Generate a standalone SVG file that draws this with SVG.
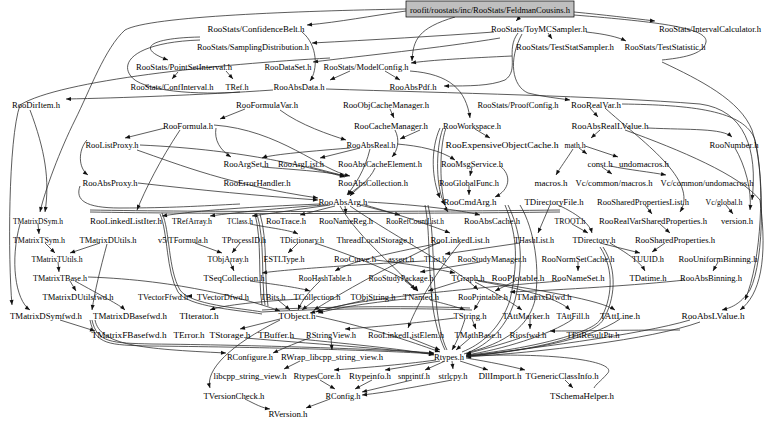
<svg xmlns="http://www.w3.org/2000/svg" width="768" height="424" viewBox="0 0 768 424">
<defs>
<marker id="a" viewBox="0 0 10 10" refX="10" refY="5" markerUnits="userSpaceOnUse" markerWidth="6" markerHeight="5" orient="auto"><path d="M0,1 L10,5 L0,9 z" fill="#111"/></marker>
<style>
text{font-family:"Liberation Serif","Times New Roman",serif;font-size:9px;fill:#000;text-anchor:middle}
.e path{fill:none;stroke:#262626;stroke-width:0.75;marker-end:url(#a)}
.e path.n{marker-end:none}
</style>
</defs>
<rect width="768" height="424" fill="#fff"/>
<g class="e" id="edges">
<path d="M406,11 C370,16 340,22 307,25"/>
<path d="M520,17 L516,21"/>
<path d="M574,12 C605,15 630,18 655,21"/>
<path d="M455,17 C418,28 413,40 412,61"/>
<path d="M494,32 C440,36 370,40 312,43"/>
<path d="M548,33 L552,39"/>
<path d="M586,32 C605,34 618,37 626,41"/>
<path class="n" d="M574,15 C660,22 708,28 706,42 C704,55 680,58 662,60"/>
<path d="M662,62 C700,80 740,100 752,130 C765,170 765,260 750,290 C740,305 730,308 722,310"/>
<path d="M518,33 C505,50 520,70 505,80 C490,86 470,86 444,86"/>
<path d="M522,34 C508,60 512,86 528,93 C545,97 556,98 570,100"/>
<path d="M512,56 C470,58 430,60 411,63"/>
<path d="M500,38 C440,48 360,56 313,62"/>
<path d="M302,32 C318,45 318,70 310,81"/>
<path d="M406,9 C300,11 150,16 125,30 C105,48 90,90 75,120 C60,150 45,190 40,212"/>
<path d="M200,37 C150,38 135,48 168,60"/>
<path class="n" d="M200,40 C140,42 120,60 130,75 C140,92 200,95 240,92"/>
<path d="M178,72 L172,79"/>
<path d="M226,71 L233,79"/>
<path d="M330,58 C220,64 60,80 20,105 C8,140 8,260 12,305"/>
<path d="M273,90 C200,95 120,98 66,99"/>
<path d="M350,71 L330,80"/>
<path d="M385,71 L400,80"/>
<path d="M410,71 C450,74 466,90 470,118"/>
<path d="M326,89 C450,93 600,96 700,104 C745,110 758,150 752,200"/>
<path d="M648,128 C690,130 722,128 732,137"/>
<path d="M590,108 L598,117"/>
<path d="M622,104 C690,105 745,110 755,140 C765,180 762,260 745,300"/>
<path d="M625,130 C680,150 740,175 760,200 C768,260 760,295 740,310"/>
<path d="M600,130 L591,138"/>
<path d="M585,146 L618,157"/>
<path d="M579,148 L587,154"/>
<path d="M573,149 C566,160 560,168 556,175"/>
<path d="M602,167 L612,174"/>
<path d="M610,166 C630,170 650,172 666,175"/>
<path d="M735,148 C745,165 752,190 750,210"/>
<path d="M245,109 L220,119"/>
<path d="M280,110 C300,125 330,135 346,140"/>
<path d="M390,109 L394,118"/>
<path d="M165,128 L125,138"/>
<path d="M216,128 C214,140 220,150 231,157"/>
<path d="M180,130 C160,160 145,190 137,210"/>
<path d="M214,125 C280,130 320,170 350,176"/>
<path d="M87,140 C78,150 78,168 88,175"/>
<path d="M140,145 C250,150 310,168 345,177"/>
<path d="M137,150 C180,165 230,185 318,198"/>
<path d="M30,110 C45,150 50,180 45,212"/>
<path d="M138,183 C200,190 260,196 318,200"/>
<path class="n" d="M80,186 C75,200 85,208 120,208 C170,208 200,206 240,204"/>
<path d="M262,167 C300,170 330,172 345,176"/>
<path d="M310,167 L345,176"/>
<path d="M350,148 C300,152 270,155 262,158"/>
<path d="M360,148 L320,158"/>
<path d="M370,149 C365,170 355,185 347,195"/>
<path d="M395,130 C400,140 398,150 392,157"/>
<path d="M420,130 L400,139"/>
<path d="M375,168 C370,180 355,190 350,196"/>
<path d="M360,186 L348,195"/>
<path d="M440,128 C430,150 432,180 440,198"/>
<path d="M443,128 C435,150 436,190 445,205"/>
<path d="M446,128 C438,150 440,200 448,212"/>
<path d="M475,129 L490,138"/>
<path d="M472,167 L470,176"/>
<path d="M469,186 L469,195"/>
<path d="M500,166 C512,175 510,190 495,197"/>
<path d="M397,144 C420,146 440,150 455,160"/>
<path d="M320,204 C250,207 200,210 162,216"/>
<path d="M325,205 C280,208 240,212 210,216"/>
<path d="M330,205 L252,216"/>
<path d="M335,206 L300,215"/>
<path d="M345,206 L346,214"/>
<path d="M360,205 L400,215"/>
<path d="M368,202 C420,205 460,210 480,215"/>
<path d="M365,205 C400,215 430,225 450,233"/>
<path d="M340,206 C360,240 400,270 415,290"/>
<path d="M350,206 C400,240 460,270 478,290"/>
<path d="M605,108 C640,140 700,180 680,212"/>
<path d="M660,224 L670,233"/>
<path d="M665,243 L652,252"/>
<path d="M645,205 L652,214"/>
<path d="M558,205 C580,215 590,225 592,233"/>
<path d="M550,205 L538,233"/>
<path d="M572,224 L588,233"/>
<path d="M600,243 L640,253"/>
<path d="M610,243 C630,255 640,262 645,271"/>
<path d="M718,262 L713,271"/>
<path d="M685,280 C640,285 560,290 510,292"/>
<path d="M726,205 L733,214"/>
<path d="M440,243 C380,255 350,262 335,271"/>
<path d="M460,243 C430,280 415,310 408,328"/>
<path d="M440,242 C380,270 330,300 314,310"/>
<path d="M425,261 C350,265 280,270 262,273"/>
<path d="M520,243 L445,254"/>
<path d="M250,281 C280,285 300,288 310,291"/>
<path d="M230,262 L234,271"/>
<path d="M315,300 L302,310"/>
<path d="M300,299 C250,302 220,306 210,310"/>
<path d="M405,299 C350,305 330,310 318,313"/>
<path d="M430,300 C450,305 460,308 465,310"/>
<path d="M480,300 L474,310"/>
<path d="M365,300 L310,313"/>
<path d="M278,300 L290,310"/>
<path d="M475,280 C540,290 600,300 615,310"/>
<path d="M478,281 C530,290 560,300 570,310"/>
<path d="M475,282 C500,295 515,305 522,310"/>
<path d="M460,281 L428,291"/>
<path d="M375,260 C420,265 440,270 455,273"/>
<path d="M320,281 C305,295 300,305 298,310"/>
<path d="M38,224 L39,234"/>
<path d="M45,243 L55,253"/>
<path d="M58,262 L59,272"/>
<path d="M100,243 L70,253"/>
<path d="M70,281 L76,291"/>
<path d="M20,224 C10,260 15,300 30,310"/>
<path d="M75,281 C100,295 120,305 125,310"/>
<path d="M60,320 L95,331"/>
<path d="M88,277 C180,280 250,300 280,311"/>
<path d="M107,244 C100,270 95,290 92,310"/>
<path d="M192,296 L187,296"/>
<path d="M195,243 L222,253"/>
<path d="M240,243 L232,253"/>
<path d="M250,224 C270,228 290,230 298,234"/>
<path d="M298,243 L288,253"/>
<path d="M315,243 C380,265 410,280 418,291"/>
<path d="M480,262 L420,272"/>
<path d="M405,281 L418,291"/>
<path d="M578,262 L578,271"/>
<path d="M560,281 C450,290 350,300 316,312"/>
<path d="M515,281 L495,291"/>
<path class="n" d="M425,205 C430,230 428,260 432,300 C434,320 440,340 445,350"/>
<path class="n" d="M428,205 C434,230 432,262 436,300 C438,322 442,340 447,350"/>
<path class="n" d="M505,205 C515,230 520,255 510,300 C500,330 480,345 462,352"/>
<path class="n" d="M508,205 C520,230 525,258 515,300 C505,332 484,347 464,354"/>
<path class="n" d="M90,210 C200,212 400,212 560,210"/>
<path class="n" d="M90,212 C200,214 400,214 560,212"/>
<path class="n" d="M162,213 C170,230 168,270 180,290 C190,305 240,308 262,312"/>
<path class="n" d="M160,214 C168,232 166,272 178,292 C188,307 238,310 262,314"/>
<path class="n" d="M255,214 C262,240 258,280 262,305"/>
<path class="n" d="M257,214 C265,240 261,280 265,305"/>
<path class="n" d="M260,214 C268,240 264,280 268,306"/>
<path class="n" d="M262,310 C330,306 420,306 470,308"/>
<path class="n" d="M262,312 C330,308 420,308 472,310"/>
<path class="n" d="M520,205 C535,230 540,270 535,300 C530,320 515,340 470,352"/>
<path class="n" d="M600,247 C615,270 612,300 600,320 C590,335 520,350 468,355"/>
<path class="n" d="M603,247 C618,270 615,300 603,320 C593,337 522,352 468,356"/>
<path d="M316,316 C380,330 420,345 440,352"/>
<path d="M280,319 L240,329"/>
<path d="M280,320 C230,345 205,370 210,388"/>
<path d="M90,320 C95,345 110,345 150,346 C250,347 380,350 434,354"/>
<path d="M92,320 C97,343 112,343 152,344 C252,345 382,349 434,353"/>
<path d="M95,320 C100,345 140,349 226,353"/>
<path d="M245,338 C330,345 400,350 434,354"/>
<path d="M290,338 C360,345 410,350 434,355"/>
<path d="M465,319 C460,335 455,345 452,350"/>
<path d="M455,318 C400,325 360,328 345,329"/>
<path d="M472,319 L476,329"/>
<path d="M331,338 L332,350"/>
<path d="M310,338 C290,345 280,350 273,353"/>
<path d="M300,361 L284,369"/>
<path d="M410,338 L440,350"/>
<path d="M470,338 L456,350"/>
<path d="M680,330 C620,330 580,331 550,331"/>
<path d="M520,338 C500,345 480,350 466,354"/>
<path d="M690,320 C640,335 520,350 466,356"/>
<path d="M700,322 C650,340 540,352 466,357"/>
<path d="M573,319 C550,335 500,350 466,355"/>
<path d="M620,319 C590,340 520,352 466,356"/>
<path d="M530,319 L530,329"/>
<path d="M436,360 C400,365 360,368 334,370"/>
<path d="M440,361 L385,370"/>
<path d="M445,361 L425,370"/>
<path d="M452,361 L453,369"/>
<path d="M460,361 L488,370"/>
<path d="M466,358 C490,362 510,366 525,370"/>
<path class="n" d="M466,356 C560,352 620,362 607,374 C600,382 596,384 594,388"/>
<path d="M320,380 L335,389"/>
<path d="M372,380 L355,389"/>
<path d="M412,380 L362,392"/>
<path d="M452,380 C420,386 390,392 362,395"/>
<path d="M330,399 L306,408"/>
<path d="M245,399 C255,404 262,408 270,409"/>
<path d="M565,380 L573,388"/>
</g>
<g id="n_root"><rect x="406" y="1" width="168" height="16" fill="#bfbfbf" stroke="#000" stroke-width="0.7"/><text x="490" y="12.5" textLength="160" lengthAdjust="spacingAndGlyphs">roofit/roostats/inc/RooStats/FeldmanCousins.h</text></g>
<g id="n_ConfidenceBelt"><text x="256" y="31.5" textLength="97" lengthAdjust="spacingAndGlyphs">RooStats/ConfidenceBelt.h</text></g>
<g id="n_ToyMCSampler"><text x="539" y="31.5" textLength="96" lengthAdjust="spacingAndGlyphs">RooStats/ToyMCSampler.h</text></g>
<g id="n_IntervalCalculator"><text x="710" y="31.5" textLength="102" lengthAdjust="spacingAndGlyphs">RooStats/IntervalCalculator.h</text></g>
<g id="n_SamplingDistribution"><text x="253" y="49.5" textLength="112" lengthAdjust="spacingAndGlyphs">RooStats/SamplingDistribution.h</text></g>
<g id="n_TestStatSampler"><text x="565" y="49.5" textLength="98" lengthAdjust="spacingAndGlyphs">RooStats/TestStatSampler.h</text></g>
<g id="n_TestStatistic"><text x="665" y="49.5" textLength="81" lengthAdjust="spacingAndGlyphs">RooStats/TestStatistic.h</text></g>
<g id="n_PointSetInterval"><text x="184" y="70" textLength="96" lengthAdjust="spacingAndGlyphs">RooStats/PointSetInterval.h</text></g>
<g id="n_RooDataSet"><text x="288" y="69.5" textLength="47" lengthAdjust="spacingAndGlyphs">RooDataSet.h</text></g>
<g id="n_ModelConfig"><text x="366" y="69.5" textLength="85" lengthAdjust="spacingAndGlyphs">RooStats/ModelConfig.h</text></g>
<g id="n_ConfInterval"><text x="172" y="89.5" textLength="83" lengthAdjust="spacingAndGlyphs">RooStats/ConfInterval.h</text></g>
<g id="n_TRef"><text x="237" y="89.5" textLength="23" lengthAdjust="spacingAndGlyphs">TRef.h</text></g>
<g id="n_RooAbsData"><text x="299" y="89.5" textLength="51" lengthAdjust="spacingAndGlyphs">RooAbsData.h</text></g>
<g id="n_RooAbsPdf"><text x="413" y="89.5" textLength="47" lengthAdjust="spacingAndGlyphs">RooAbsPdf.h</text></g>
<g id="n_RooDirItem"><text x="36" y="107.5" textLength="48" lengthAdjust="spacingAndGlyphs">RooDirItem.h</text></g>
<g id="n_RooFormulaVar"><text x="267" y="107.5" textLength="62" lengthAdjust="spacingAndGlyphs">RooFormulaVar.h</text></g>
<g id="n_RooObjCacheManager"><text x="386" y="107.5" textLength="86" lengthAdjust="spacingAndGlyphs">RooObjCacheManager.h</text></g>
<g id="n_ProofConfig"><text x="518" y="107.5" textLength="81" lengthAdjust="spacingAndGlyphs">RooStats/ProofConfig.h</text></g>
<g id="n_RooRealVar"><text x="596" y="107.5" textLength="50" lengthAdjust="spacingAndGlyphs">RooRealVar.h</text></g>
<g id="n_RooFormula"><text x="188" y="128.5" textLength="50" lengthAdjust="spacingAndGlyphs">RooFormula.h</text></g>
<g id="n_RooCacheManager"><text x="391" y="128.5" textLength="74" lengthAdjust="spacingAndGlyphs">RooCacheManager.h</text></g>
<g id="n_RooWorkspace"><text x="472" y="128.5" textLength="58" lengthAdjust="spacingAndGlyphs">RooWorkspace.h</text></g>
<g id="n_RooAbsRealLValue"><text x="610" y="128.5" textLength="77" lengthAdjust="spacingAndGlyphs">RooAbsRealLValue.h</text></g>
<g id="n_RooListProxy"><text x="112" y="147.5" textLength="53" lengthAdjust="spacingAndGlyphs">RooListProxy.h</text></g>
<g id="n_RooAbsReal"><text x="371" y="147.5" textLength="49" lengthAdjust="spacingAndGlyphs">RooAbsReal.h</text></g>
<g id="n_RooExpensiveObjectCache"><text x="502" y="147.5" textLength="113" lengthAdjust="spacingAndGlyphs">RooExpensiveObjectCache.h</text></g>
<g id="n_math"><text x="575" y="147.5" textLength="21" lengthAdjust="spacingAndGlyphs">math.h</text></g>
<g id="n_RooNumber"><text x="734" y="147.5" textLength="49" lengthAdjust="spacingAndGlyphs">RooNumber.h</text></g>
<g id="n_RooArgSet"><text x="246" y="166.5" textLength="45" lengthAdjust="spacingAndGlyphs">RooArgSet.h</text></g>
<g id="n_RooArgList"><text x="301" y="166.5" textLength="46" lengthAdjust="spacingAndGlyphs">RooArgList.h</text></g>
<g id="n_RooAbsCacheElement"><text x="380" y="166.5" textLength="84" lengthAdjust="spacingAndGlyphs">RooAbsCacheElement.h</text></g>
<g id="n_RooMsgService"><text x="472" y="166.5" textLength="62" lengthAdjust="spacingAndGlyphs">RooMsgService.h</text></g>
<g id="n_const"><text x="600" y="166.5" textLength="25" lengthAdjust="spacingAndGlyphs">const.h</text></g>
<g id="n_undomacros"><text x="644" y="166.5" textLength="50" lengthAdjust="spacingAndGlyphs">undomacros.h</text></g>
<g id="n_RooAbsProxy"><text x="110" y="185.5" textLength="55" lengthAdjust="spacingAndGlyphs">RooAbsProxy.h</text></g>
<g id="n_RooErrorHandler"><text x="257" y="185.5" textLength="67" lengthAdjust="spacingAndGlyphs">RooErrorHandler.h</text></g>
<g id="n_RooAbsCollection"><text x="373" y="185.5" textLength="70" lengthAdjust="spacingAndGlyphs">RooAbsCollection.h</text></g>
<g id="n_RooGlobalFunc"><text x="469" y="185.5" textLength="60" lengthAdjust="spacingAndGlyphs">RooGlobalFunc.h</text></g>
<g id="n_macros"><text x="551" y="185.5" textLength="33" lengthAdjust="spacingAndGlyphs">macros.h</text></g>
<g id="n_VcCommonMacros"><text x="614" y="185.5" textLength="77" lengthAdjust="spacingAndGlyphs">Vc/common/macros.h</text></g>
<g id="n_VcCommonUndomacros"><text x="707" y="185.5" textLength="93" lengthAdjust="spacingAndGlyphs">Vc/common/undomacros.h</text></g>
<g id="n_RooAbsArg"><text x="343" y="204.5" textLength="49" lengthAdjust="spacingAndGlyphs">RooAbsArg.h</text></g>
<g id="n_RooCmdArg"><text x="470" y="204.5" textLength="53" lengthAdjust="spacingAndGlyphs">RooCmdArg.h</text></g>
<g id="n_TDirectoryFile"><text x="554" y="204.5" textLength="59" lengthAdjust="spacingAndGlyphs">TDirectoryFile.h</text></g>
<g id="n_RooSharedPropertiesList"><text x="643" y="204.5" textLength="92" lengthAdjust="spacingAndGlyphs">RooSharedPropertiesList.h</text></g>
<g id="n_VcGlobal"><text x="724" y="204.5" textLength="37" lengthAdjust="spacingAndGlyphs">Vc/global.h</text></g>
<g id="n_TMatrixDSym"><text x="38" y="223.5" textLength="50" lengthAdjust="spacingAndGlyphs">TMatrixDSym.h</text></g>
<g id="n_RooLinkedListIter"><text x="126" y="223.5" textLength="72" lengthAdjust="spacingAndGlyphs">RooLinkedListIter.h</text></g>
<g id="n_TRefArray"><text x="192" y="223.5" textLength="40" lengthAdjust="spacingAndGlyphs">TRefArray.h</text></g>
<g id="n_TClass"><text x="240" y="223.5" textLength="26" lengthAdjust="spacingAndGlyphs">TClass.h</text></g>
<g id="n_RooTrace"><text x="286" y="223.5" textLength="40" lengthAdjust="spacingAndGlyphs">RooTrace.h</text></g>
<g id="n_RooNameReg"><text x="346" y="223.5" textLength="54" lengthAdjust="spacingAndGlyphs">RooNameReg.h</text></g>
<g id="n_RooRefCountList"><text x="415" y="223.5" textLength="58" lengthAdjust="spacingAndGlyphs">RooRefCountList.h</text></g>
<g id="n_RooAbsCache"><text x="492" y="223.5" textLength="56" lengthAdjust="spacingAndGlyphs">RooAbsCache.h</text></g>
<g id="n_TROOT"><text x="570" y="223.5" textLength="31" lengthAdjust="spacingAndGlyphs">TROOT.h</text></g>
<g id="n_RooRealVarSharedProperties"><text x="653" y="223.5" textLength="108" lengthAdjust="spacingAndGlyphs">RooRealVarSharedProperties.h</text></g>
<g id="n_version"><text x="737" y="223.5" textLength="32" lengthAdjust="spacingAndGlyphs">version.h</text></g>
<g id="n_TMatrixTSym"><text x="39" y="242.5" textLength="52" lengthAdjust="spacingAndGlyphs">TMatrixTSym.h</text></g>
<g id="n_TMatrixDUtils"><text x="108" y="242.5" textLength="57" lengthAdjust="spacingAndGlyphs">TMatrixDUtils.h</text></g>
<g id="n_v5TFormula"><text x="183" y="242.5" textLength="50" lengthAdjust="spacingAndGlyphs">v5/TFormula.h</text></g>
<g id="n_TProcessID"><text x="244" y="242.5" textLength="44" lengthAdjust="spacingAndGlyphs">TProcessID.h</text></g>
<g id="n_TDictionary"><text x="302" y="242.5" textLength="44" lengthAdjust="spacingAndGlyphs">TDictionary.h</text></g>
<g id="n_ThreadLocalStorage"><text x="375" y="242.5" textLength="77" lengthAdjust="spacingAndGlyphs">ThreadLocalStorage.h</text></g>
<g id="n_RooLinkedList"><text x="460" y="242.5" textLength="59" lengthAdjust="spacingAndGlyphs">RooLinkedList.h</text></g>
<g id="n_THashList"><text x="534" y="242.5" textLength="40" lengthAdjust="spacingAndGlyphs">THashList.h</text></g>
<g id="n_TDirectory"><text x="594" y="242.5" textLength="43" lengthAdjust="spacingAndGlyphs">TDirectory.h</text></g>
<g id="n_RooSharedProperties"><text x="675" y="242.5" textLength="80" lengthAdjust="spacingAndGlyphs">RooSharedProperties.h</text></g>
<g id="n_TMatrixTUtils"><text x="57" y="261.5" textLength="51" lengthAdjust="spacingAndGlyphs">TMatrixTUtils.h</text></g>
<g id="n_TObjArray"><text x="228" y="261.5" textLength="41" lengthAdjust="spacingAndGlyphs">TObjArray.h</text></g>
<g id="n_ESTLType"><text x="284" y="261.5" textLength="41" lengthAdjust="spacingAndGlyphs">ESTLType.h</text></g>
<g id="n_RooCurve"><text x="355" y="261.5" textLength="42" lengthAdjust="spacingAndGlyphs">RooCurve.h</text></g>
<g id="n_assert"><text x="401" y="261.5" textLength="26" lengthAdjust="spacingAndGlyphs">assert.h</text></g>
<g id="n_TList"><text x="435" y="261.5" textLength="22" lengthAdjust="spacingAndGlyphs">TList.h</text></g>
<g id="n_RooStudyManager"><text x="492" y="261.5" textLength="69" lengthAdjust="spacingAndGlyphs">RooStudyManager.h</text></g>
<g id="n_RooNormSetCache"><text x="578" y="261.5" textLength="73" lengthAdjust="spacingAndGlyphs">RooNormSetCache.h</text></g>
<g id="n_TUUID"><text x="648" y="261.5" textLength="32" lengthAdjust="spacingAndGlyphs">TUUID.h</text></g>
<g id="n_RooUniformBinning"><text x="718" y="261.5" textLength="79" lengthAdjust="spacingAndGlyphs">RooUniformBinning.h</text></g>
<g id="n_TMatrixTBase"><text x="60" y="280.5" textLength="54" lengthAdjust="spacingAndGlyphs">TMatrixTBase.h</text></g>
<g id="n_TSeqCollection"><text x="234" y="280.5" textLength="61" lengthAdjust="spacingAndGlyphs">TSeqCollection.h</text></g>
<g id="n_RooHashTable"><text x="325" y="280.5" textLength="53" lengthAdjust="spacingAndGlyphs">RooHashTable.h</text></g>
<g id="n_RooStudyPackage"><text x="401" y="280.5" textLength="65" lengthAdjust="spacingAndGlyphs">RooStudyPackage.h</text></g>
<g id="n_TGraph"><text x="468" y="280.5" textLength="33" lengthAdjust="spacingAndGlyphs">TGraph.h</text></g>
<g id="n_RooPlotable"><text x="518" y="280.5" textLength="53" lengthAdjust="spacingAndGlyphs">RooPlotable.h</text></g>
<g id="n_RooNameSet"><text x="578" y="280.5" textLength="53" lengthAdjust="spacingAndGlyphs">RooNameSet.h</text></g>
<g id="n_TDatime"><text x="648" y="280.5" textLength="37" lengthAdjust="spacingAndGlyphs">TDatime.h</text></g>
<g id="n_RooAbsBinning"><text x="711" y="280.5" textLength="62" lengthAdjust="spacingAndGlyphs">RooAbsBinning.h</text></g>
<g id="n_TMatrixDUtilsfwd"><text x="78" y="299.5" textLength="71" lengthAdjust="spacingAndGlyphs">TMatrixDUtilsfwd.h</text></g>
<g id="n_TVectorFfwd"><text x="163" y="299.5" textLength="50" lengthAdjust="spacingAndGlyphs">TVectorFfwd.h</text></g>
<g id="n_TVectorDfwd"><text x="223" y="299.5" textLength="52" lengthAdjust="spacingAndGlyphs">TVectorDfwd.h</text></g>
<g id="n_TBits"><text x="273" y="299.5" textLength="25" lengthAdjust="spacingAndGlyphs">TBits.h</text></g>
<g id="n_TCollection"><text x="317" y="299.5" textLength="47" lengthAdjust="spacingAndGlyphs">TCollection.h</text></g>
<g id="n_TObjString"><text x="373" y="299.5" textLength="45" lengthAdjust="spacingAndGlyphs">TObjString.h</text></g>
<g id="n_TNamed"><text x="421" y="299.5" textLength="36" lengthAdjust="spacingAndGlyphs">TNamed.h</text></g>
<g id="n_RooPrintable"><text x="483" y="299.5" textLength="50" lengthAdjust="spacingAndGlyphs">RooPrintable.h</text></g>
<g id="n_TMatrixDfwd"><text x="544" y="299.5" textLength="55" lengthAdjust="spacingAndGlyphs">TMatrixDfwd.h</text></g>
<g id="n_TMatrixDSymfwd"><text x="46" y="318.5" textLength="72" lengthAdjust="spacingAndGlyphs">TMatrixDSymfwd.h</text></g>
<g id="n_TMatrixDBasefwd"><text x="130" y="318.5" textLength="74" lengthAdjust="spacingAndGlyphs">TMatrixDBasefwd.h</text></g>
<g id="n_TIterator"><text x="199" y="318.5" textLength="39" lengthAdjust="spacingAndGlyphs">TIterator.h</text></g>
<g id="n_TObject"><text x="297" y="318.5" textLength="37" lengthAdjust="spacingAndGlyphs">TObject.h</text></g>
<g id="n_TString"><text x="470" y="318.5" textLength="33" lengthAdjust="spacingAndGlyphs">TString.h</text></g>
<g id="n_TAttMarker"><text x="526" y="318.5" textLength="47" lengthAdjust="spacingAndGlyphs">TAttMarker.h</text></g>
<g id="n_TAttFill"><text x="573" y="318.5" textLength="33" lengthAdjust="spacingAndGlyphs">TAttFill.h</text></g>
<g id="n_TAttLine"><text x="620" y="318.5" textLength="40" lengthAdjust="spacingAndGlyphs">TAttLine.h</text></g>
<g id="n_RooAbsLValue"><text x="713" y="318.5" textLength="63" lengthAdjust="spacingAndGlyphs">RooAbsLValue.h</text></g>
<g id="n_TMatrixFBasefwd"><text x="129" y="337.5" textLength="75" lengthAdjust="spacingAndGlyphs">TMatrixFBasefwd.h</text></g>
<g id="n_TError"><text x="189" y="337.5" textLength="31" lengthAdjust="spacingAndGlyphs">TError.h</text></g>
<g id="n_TStorage"><text x="230" y="337.5" textLength="41" lengthAdjust="spacingAndGlyphs">TStorage.h</text></g>
<g id="n_TBuffer"><text x="276" y="337.5" textLength="36" lengthAdjust="spacingAndGlyphs">TBuffer.h</text></g>
<g id="n_RStringView"><text x="331" y="337.5" textLength="50" lengthAdjust="spacingAndGlyphs">RStringView.h</text></g>
<g id="n_RooLinkedListElem"><text x="406" y="337.5" textLength="76" lengthAdjust="spacingAndGlyphs">RooLinkedListElem.h</text></g>
<g id="n_TMathBase"><text x="478" y="337.5" textLength="47" lengthAdjust="spacingAndGlyphs">TMathBase.h</text></g>
<g id="n_Riosfwd"><text x="528" y="337.5" textLength="37" lengthAdjust="spacingAndGlyphs">Riosfwd.h</text></g>
<g id="n_TFitResultPtr"><text x="593" y="337.5" textLength="53" lengthAdjust="spacingAndGlyphs">TFitResultPtr.h</text></g>
<g id="n_RConfigure"><text x="250" y="359.5" textLength="46" lengthAdjust="spacingAndGlyphs">RConfigure.h</text></g>
<g id="n_RWrap"><text x="332" y="359.5" textLength="102" lengthAdjust="spacingAndGlyphs">RWrap_libcpp_string_view.h</text></g>
<g id="n_Rtypes"><text x="449" y="359.5" textLength="30" lengthAdjust="spacingAndGlyphs">Rtypes.h</text></g>
<g id="n_libcpp"><text x="250" y="378.5" textLength="73" lengthAdjust="spacingAndGlyphs">libcpp_string_view.h</text></g>
<g id="n_RtypesCore"><text x="317" y="378.5" textLength="47" lengthAdjust="spacingAndGlyphs">RtypesCore.h</text></g>
<g id="n_Rtypeinfo"><text x="370" y="378.5" textLength="42" lengthAdjust="spacingAndGlyphs">Rtypeinfo.h</text></g>
<g id="n_snprintf"><text x="414" y="378.5" textLength="32" lengthAdjust="spacingAndGlyphs">snprintf.h</text></g>
<g id="n_strlcpy"><text x="453" y="378.5" textLength="29" lengthAdjust="spacingAndGlyphs">strlcpy.h</text></g>
<g id="n_DllImport"><text x="500" y="378.5" textLength="43" lengthAdjust="spacingAndGlyphs">DllImport.h</text></g>
<g id="n_TGenericClassInfo"><text x="562" y="378.5" textLength="73" lengthAdjust="spacingAndGlyphs">TGenericClassInfo.h</text></g>
<g id="n_TVersionCheck"><text x="234" y="398.5" textLength="61" lengthAdjust="spacingAndGlyphs">TVersionCheck.h</text></g>
<g id="n_RConfig"><text x="343" y="398.5" textLength="35" lengthAdjust="spacingAndGlyphs">RConfig.h</text></g>
<g id="n_TSchemaHelper"><text x="582" y="398.5" textLength="64" lengthAdjust="spacingAndGlyphs">TSchemaHelper.h</text></g>
<g id="n_RVersion"><text x="288" y="416.5" textLength="39" lengthAdjust="spacingAndGlyphs">RVersion.h</text></g>
</svg>
